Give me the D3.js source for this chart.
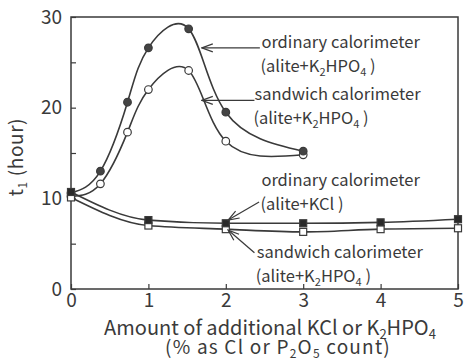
<!DOCTYPE html>
<html>
<head>
<meta charset="utf-8">
<script src="https://cdn.jsdelivr.net/npm/d3@7"></script>
<style>
  body { margin: 0; background: #fff; }
  svg text { font-family: "Noto Sans CJK JP", "Noto Sans", sans-serif; fill: #3a3a3a; }
</style>
</head>
<body>
<svg id="chart" width="469" height="361"></svg>
<script>
// values
const phosX = [0, 0.38, 0.73, 1.0, 1.52, 2.0, 3.0];
const ordinaryPhos = [10.6, 13.0, 20.6, 26.6, 28.7, 19.5, 15.2];
const sandwichPhos = [10.2, 11.6, 17.3, 22.0, 24.1, 16.3, 14.8];
const kclX = [0, 1, 2, 3, 4, 5];
const ordinaryKcl = [10.7, 7.6, 7.25, 7.25, 7.35, 7.7];
const sandwichKcl = [10.1, 7.0, 6.6, 6.3, 6.6, 6.7];
const xTicks = [0, 1, 2, 3, 4, 5];
const yTicks = [0, 5, 10, 15, 20, 25, 30];

const svg = d3.select("#chart");
const margin = {top: 17, right: 11, bottom: 72, left: 71};
const width = 469 - margin.left - margin.right;
const height = 361 - margin.top - margin.bottom;
const ink = "#3a3a3a";

const x = d3.scaleLinear().domain([0, 5]).range([margin.left, margin.left + width]);
const y = d3.scaleLinear().domain([0, 30]).range([margin.top + height, margin.top]);

// open arrow head
svg.append("defs").append("marker")
    .attr("id", "arrow")
    .attr("viewBox", "-12 -5 13 10")
    .attr("refX", 0).attr("refY", 0)
    .attr("markerWidth", 13).attr("markerHeight", 10)
    .attr("markerUnits", "userSpaceOnUse")
    .attr("orient", "auto")
    .append("path")
    .attr("d", "M-11,-4L0,0L-11,4")
    .attr("fill", "none")
    .attr("stroke", ink)
    .attr("stroke-width", 1.2);

// frame
svg.append("rect")
    .attr("x", margin.left).attr("y", margin.top)
    .attr("width", width).attr("height", height)
    .attr("fill", "none").attr("stroke", ink).attr("stroke-width", 1.5);

const xAxis = svg.append("g")
    .attr("transform", `translate(0,${margin.top + height})`)
    .call(d3.axisBottom(x).tickValues(xTicks).tickSize(-5).tickPadding(6).tickFormat(d3.format("d")));
const yAxis = svg.append("g")
    .attr("transform", `translate(${margin.left},0)`)
    .call(d3.axisLeft(y).tickValues(yTicks).tickSize(-5).tickPadding(9)
        .tickFormat(d => d % 10 === 0 ? d : ""));
[xAxis, yAxis].forEach(g => {
    g.select(".domain").remove();
    g.selectAll(".tick line").attr("stroke", ink).attr("stroke-width", 1.2);
    g.selectAll(".tick text").attr("fill", ink).style("font-size", "19px");
});
xAxis.selectAll(".tick text").attr("dy", "0.65em");

// curves
function drawSeries(xs, ys, curve) {
    const line = d3.line().x(d => x(d[0])).y(d => y(d[1])).curve(curve);
    svg.append("path")
        .datum(xs.map((v, i) => [v, ys[i]]))
        .attr("d", line)
        .attr("fill", "none")
        .attr("stroke", ink)
        .attr("stroke-width", 1.6);
}
drawSeries(phosX, ordinaryPhos, d3.curveNatural);
drawSeries(phosX, sandwichPhos, d3.curveNatural);
drawSeries(kclX, ordinaryKcl, d3.curveMonotoneX);
drawSeries(kclX, sandwichKcl, d3.curveMonotoneX);

// markers
function drawSquares(xs, ys, fill) {
    svg.selectAll(null).data(xs.map((v, i) => [v, ys[i]])).join("rect")
        .attr("x", d => x(d[0]) - 3.5).attr("y", d => y(d[1]) - 3.5)
        .attr("width", 7).attr("height", 7)
        .attr("fill", fill).attr("stroke", ink).attr("stroke-width", 1.2);
}
function drawCircles(xs, ys, fill) {
    svg.selectAll(null).data(xs.map((v, i) => [v, ys[i]])).join("circle")
        .attr("cx", d => x(d[0])).attr("cy", d => y(d[1]))
        .attr("r", 3.8)
        .attr("fill", fill).attr("stroke", ink).attr("stroke-width", 1.2);
}
drawCircles(phosX, sandwichPhos, "#fff");
drawCircles(phosX, ordinaryPhos, "#444");
drawSquares(kclX, sandwichKcl, "#fff");
drawSquares(kclX, ordinaryKcl, "#2a2a2a");

// annotations: arrow tip, arrow tail and text start, all in data units
const notes = [
    {tip: [1.69, 26.6], from: [2.44, 26.6], tx: 2.46, ty: 26.6, l1: "ordinary calorimeter", l2: "phos"},
    {tip: [1.69, 20.8], from: [2.37, 20.8], tx: 2.37, ty: 20.8, l1: "sandwich calorimeter", l2: "phos"},
    {tip: [2.03, 7.6], from: [2.43, 9.6], tx: 2.46, ty: 11.4, l1: "ordinary calorimeter", l2: "kcl"},
    {tip: [2.03, 6.5], from: [2.37, 4.0], tx: 2.40, ty: 3.4, l1: "sandwich calorimeter", l2: "phos"}
];
const fs = 16.5;
notes.forEach(n => {
    svg.append("line")
        .attr("x1", x(n.from[0])).attr("y1", y(n.from[1]))
        .attr("x2", x(n.tip[0])).attr("y2", y(n.tip[1]))
        .attr("stroke", ink).attr("stroke-width", 1.2)
        .attr("marker-end", "url(#arrow)");
    svg.append("text")
        .attr("x", x(n.tx)).attr("y", y(n.ty))
        .style("font-size", fs + "px")
        .text(n.l1);
    const t2 = svg.append("text")
        .attr("x", x(n.tx) - 1).attr("y", y(n.ty) + 24)
        .style("font-size", fs + "px");
    if (n.l2 === "kcl") {
        t2.append("tspan").text("(alite+KCl )");
    } else {
        t2.append("tspan").text("(alite+K");
        t2.append("tspan").text("2").attr("dy", 4).style("font-size", "11px");
        t2.append("tspan").text("HPO").attr("dy", -4);
        t2.append("tspan").text("4").attr("dy", 4).style("font-size", "11px");
        t2.append("tspan").text(" )").attr("dy", -4);
    }
});

// axis titles
const xt = svg.append("text")
    .attr("x", 270).attr("y", 335)
    .attr("text-anchor", "middle")
    .style("font-size", "20px");
xt.append("tspan").text("Amount of additional KCl or K");
xt.append("tspan").text("2").attr("dy", 4).style("font-size", "13px");
xt.append("tspan").text("HPO").attr("dy", -4);
xt.append("tspan").text("4").attr("dy", 4).style("font-size", "13px");

const xt2 = svg.append("text")
    .attr("x", 278).attr("y", 354)
    .attr("text-anchor", "middle")
    .style("font-size", "19px")
    .style("letter-spacing", "1.2px");
xt2.append("tspan").text("(% as Cl or P");
xt2.append("tspan").text("2").attr("dy", 4).style("font-size", "12px");
xt2.append("tspan").text("O").attr("dy", -4);
xt2.append("tspan").text("5").attr("dy", 4).style("font-size", "12px");
xt2.append("tspan").text(" count)").attr("dy", -4);

const yt = svg.append("text")
    .attr("transform", `translate(23,157) rotate(-90)`)
    .attr("text-anchor", "middle")
    .style("font-size", "19px")
    .style("letter-spacing", "0.6px");
yt.append("tspan").text("t");
yt.append("tspan").text("1").attr("dy", 4).style("font-size", "12px");
yt.append("tspan").text(" (hour)").attr("dy", -4);
</script>
</body>
</html>
